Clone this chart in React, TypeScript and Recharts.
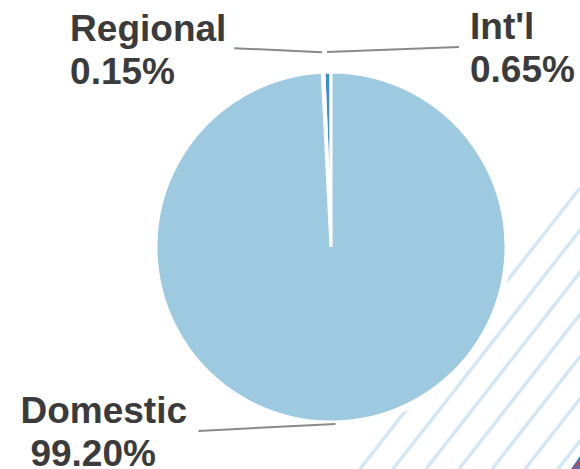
import { PieChart, Pie, Cell } from "recharts";

const categories = ["Int'l", "Regional", "Domestic"];
const shares = [0.65, 0.15, 99.2];
const shareLabels = ["0.65%", "0.15%", "99.20%"];

const colors = ["#3d8dca", "#2a6fae", "#9ecae1"];

const data = categories.map((name, i) => ({
  name,
  value: shares[i],
  label: shareLabels[i],
}));

// where each label sits relative to the slice's edge point
const labelLayout: Record<string, any> = {
  "Int'l": { lineOut: 20, dx: 132, dy: -5, tx: 143, ty: -13, indent: 0 },
  Regional: { lineOut: 20, dx: -88, dy: -4, tx: -252, ty: -11, indent: 0 },
  Domestic: { lineOut: 2, dx: -137, dy: 7, tx: -315, ty: -1, indent: 10 },
};

const RAD = Math.PI / 180;

function renderLabel(props: any) {
  const { cx, cy, midAngle, outerRadius, name, payload } = props;
  const cfg = labelLayout[name];
  const r = outerRadius + cfg.lineOut;
  const sx = cx + r * Math.cos(-midAngle * RAD);
  const sy = cy + r * Math.sin(-midAngle * RAD);
  const tx = sx + cfg.tx;
  const ty = sy + cfg.ty;
  return (
    <g>
      <line x1={sx} y1={sy} x2={sx + cfg.dx} y2={sy + cfg.dy} stroke="#8a8a8a" strokeWidth={2} />
      <text
        x={tx}
        y={ty}
        fill="#3b3b3b"
        fontFamily="'Liberation Sans', Arial, sans-serif"
        fontWeight="bold"
        fontSize={37}
        textAnchor="start"
      >
        <tspan x={tx} dy={0}>{name}</tspan>
        <tspan x={tx + cfg.indent} dy={43}>{payload.label}</tspan>
      </text>
    </g>
  );
}

function Stripes() {
  const lines = [];
  for (let k = 0; k < 7; k++) {
    const x0 = 360 + k * 33;
    lines.push(
      <line key={k} x1={x0} y1={469} x2={x0 + 220} y2={188} stroke="#d5e7f3" strokeWidth={3.5} />
    );
  }
  return (
    <svg width={580} height={469} style={{ position: "absolute", left: 0, top: 0 }}>
      {lines}
      <polygon points="571,469 580,456 580,469" fill="#2f7fc4" />
      <line x1={574} y1={469} x2={580} y2={461} stroke="#e23a3a" strokeWidth={2} />
    </svg>
  );
}

export default function App() {
  return (
    <div style={{ position: "absolute", left: 0, top: 0, width: 580, height: 469, background: "#fff", overflow: "hidden" }}>
      <Stripes />
      <div style={{ position: "absolute", left: 0, top: 0 }}>
        <PieChart width={580} height={469} margin={{ top: 0, right: 0, bottom: 0, left: 0 }}>
          <Pie
            data={[{ value: 1 }]}
            dataKey="value"
            cx={331}
            cy={247}
            outerRadius={180}
            fill="#ffffff"
            stroke="none"
            isAnimationActive={false}
          />
          <Pie
            data={data}
            dataKey="value"
            nameKey="name"
            cx={331}
            cy={247}
            outerRadius={175}
            startAngle={90}
            endAngle={450}
            stroke="#ffffff"
            strokeWidth={3}
            labelLine={false}
            label={renderLabel}
            isAnimationActive={false}
          >
            {data.map((d, i) => (
              <Cell key={d.name} fill={colors[i]} />
            ))}
          </Pie>
        </PieChart>
      </div>
    </div>
  );
}
